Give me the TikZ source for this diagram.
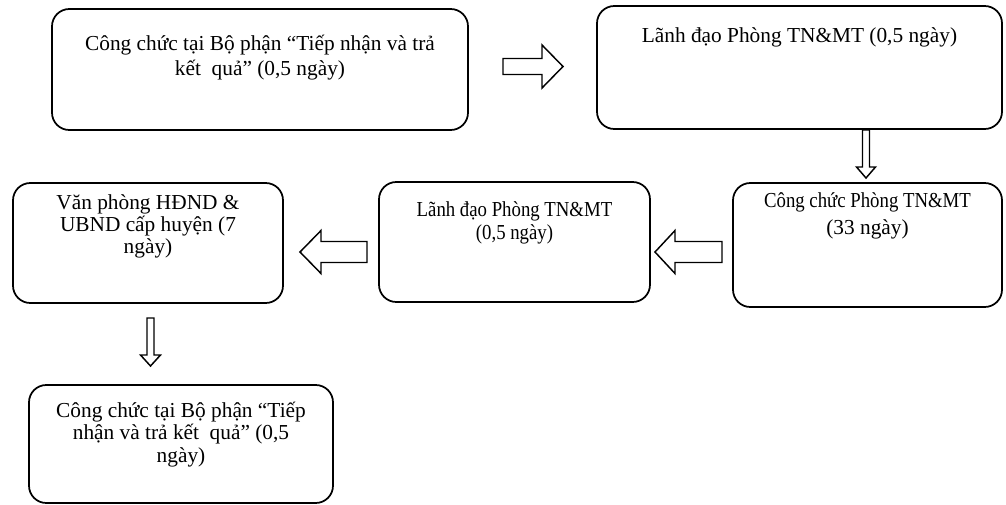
\documentclass[tikz,border=0pt]{standalone}
\usepackage{fontspec}
\setmainfont{Liberation Serif}
\newfontfamily\narrowserif[FakeStretch=0.88]{Liberation Serif}
\usepackage{tikz}
\usetikzlibrary{positioning, calc}

\tikzset{
    stepbox/.style={draw, line width=1.3pt, rounded corners=13pt, inner sep=0pt},
    boxtext/.style={inner sep=0pt, align=center, font=\fontsize{16}{#1}\selectfont},
    boxtext/.default=18pt,
    blockarrow/.style={draw, line width=1.1pt, fill=white, line join=miter}
}

\begin{document}
\begin{tikzpicture}[x=0.75pt,y=0.75pt,yscale=-1,xscale=1]
        \useasboundingbox (0,0) rectangle (1006,504);
        % boxes
        \node [stepbox, minimum width=312pt, minimum height=90.75pt] (tiepnhan) at (260,69.5) {};
        \node [stepbox, minimum width=303.75pt, minimum height=92.25pt] (lanhdao) at (799.5,67.5) {};
        \node [stepbox, minimum width=201.75pt, minimum height=93pt] (congchuc) at (867.5,245) {};
        \node [stepbox, minimum width=203.25pt, minimum height=90pt] (lanhdaoky) at (514.5,242) {};
        \node [stepbox, minimum width=202.5pt, minimum height=90pt] (vanphong) at (148,243) {};
        \node [stepbox, minimum width=228pt, minimum height=88.5pt] (trakq) at (181,444) {};
        % texts
        \node [boxtext=19pt, below=20pt of tiepnhan.north] (tiepnhantxt) {Công chức tại Bộ phận “Tiếp nhận và trả\\kết\ \ quả” (0,5 ngày)};
        \node [boxtext, below=17pt of lanhdao.north] (lanhdaotxt) {Lãnh đạo Phòng TN\&MT (0,5 ngày)};
        \node [boxtext=20pt, below=8pt of congchuc.north] (congchuctxt) {{\narrowserif Công chức Phòng TN\&MT}\\(33 ngày)};
        \node [boxtext=17.5pt, below=15pt of lanhdaoky.north] (lanhdaokytxt) {\narrowserif Lãnh đạo Phòng TN\&MT\\\narrowserif (0,5 ngày)};
        \node [boxtext=16.5pt, below=9pt of vanphong.north] (vanphongtxt) {Văn phòng HĐND \&\\UBND cấp huyện (7\\ngày)};
        \node [boxtext=17pt, below=13pt of trakq.north] (trakqtxt) {Công chức tại Bộ phận “Tiếp\\nhận và trả kết\ \ quả” (0,5\\ngày)};
        % block arrows between boxes
        \coordinate (a1) at (533,66.5);
        \coordinate (a2) at (866,154);
        \coordinate (a3) at (688.5,252);
        \coordinate (a4) at (333.5,252);
        \coordinate (a5) at (150.5,342);
        \draw [blockarrow, shift={(a1)}] (-30,-8) -- (9,-8) -- (9,-21.5) -- (30,0) -- (9,21.5) -- (9,8) -- (-30,8) -- cycle ;
        \draw [blockarrow, shift={(a2)}] (-3.5,-24) -- (3.5,-24) -- (3.5,13) -- (9.5,13) -- (0,24) -- (-9.5,13) -- (-3.5,13) -- cycle ;
        \draw [blockarrow, shift={(a3)}] (33.5,-10.5) -- (-13.5,-10.5) -- (-13.5,-21.5) -- (-33.5,0) -- (-13.5,21.5) -- (-13.5,10.5) -- (33.5,10.5) -- cycle ;
        \draw [blockarrow, shift={(a4)}] (33.5,-10.5) -- (-12.5,-10.5) -- (-12.5,-21.5) -- (-33.5,0) -- (-12.5,21.5) -- (-12.5,10.5) -- (33.5,10.5) -- cycle ;
        \draw [blockarrow, shift={(a5)}] (-3.5,-24) -- (3.5,-24) -- (3.5,13) -- (10,13) -- (0,24) -- (-10,13) -- (-3.5,13) -- cycle ;
\end{tikzpicture}
\end{document}
